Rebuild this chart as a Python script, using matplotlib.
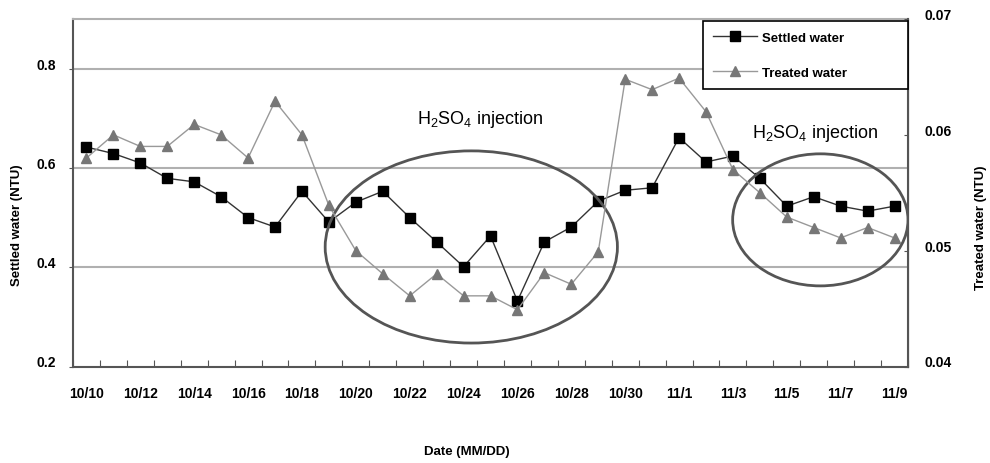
import matplotlib.pyplot as plt
import matplotlib.transforms as mtransforms
from matplotlib.patches import Ellipse
import numpy as np

plt.rcParams['font.family'] = ['Liberation Sans', 'DejaVu Sans']

# dias de 10/10 a 11/9
datas = ['10/10', '10/11', '10/12', '10/13', '10/14', '10/15', '10/16', '10/17',
         '10/18', '10/19', '10/20', '10/21', '10/22', '10/23', '10/24', '10/25',
         '10/26', '10/27', '10/28', '10/29', '10/30', '10/31', '11/1', '11/2',
         '11/3', '11/4', '11/5', '11/6', '11/7', '11/8', '11/9']

settled = [0.642, 0.629, 0.610, 0.579, 0.572, 0.542, 0.500, 0.481,
           0.553, 0.491, 0.531, 0.553, 0.500, 0.451, 0.401, 0.463,
           0.332, 0.451, 0.481, 0.533, 0.555, 0.560, 0.661, 0.612,
           0.624, 0.579, 0.523, 0.542, 0.523, 0.513, 0.523]

treated = [0.0580, 0.0600, 0.0590, 0.0590, 0.0609, 0.0600, 0.0580, 0.0629,
           0.0600, 0.0539, 0.0500, 0.0480, 0.0461, 0.0480, 0.0461, 0.0461,
           0.0449, 0.0481, 0.0471, 0.0499, 0.0648, 0.0639, 0.0649, 0.0620,
           0.0570, 0.0550, 0.0529, 0.0520, 0.0511, 0.0520, 0.0511]

x = np.arange(len(datas))

fig = plt.figure(figsize=(9.9, 4.64), dpi=100)
fig.subplots_adjust(left=73/990, right=908/990, top=1-20/464, bottom=1-367.5/464)
ax = fig.add_subplot(111)
ax2 = ax.twinx()

# deslocamento dos rótulos do eixo y (ficam um pouco acima da marca)
sobe = mtransforms.ScaledTranslation(0, 4/72, fig.dpi_scale_trans)

# eixo esquerdo
ax.set_xlim(-0.5, len(datas) - 0.5)
ax.set_ylim(0.2, 0.9)
ax.set_yticks([0.2, 0.4, 0.6, 0.8])
ax.set_yticklabels(['0.2', '0.4', '0.6', '0.8'], fontweight='bold', fontsize=10)
for yv in [0.4, 0.6, 0.8]:
    ax.axhline(yv, color='#b0b0b0', lw=1.5, zorder=0)
ax.tick_params(axis='y', length=3, pad=9, color='#555555')
for lbl in ax.get_yticklabels():
    lbl.set_transform(lbl.get_transform() + sobe)

# ticks nas fronteiras das categorias, rótulos de 2 em 2
ax.set_xticks(np.arange(-0.5, len(datas)), minor=False)
ax.set_xticklabels([])
ax.tick_params(axis='x', which='major', direction='in', length=5, color='#555555')
ax.set_xticks(x[::2], minor=True)
ax.set_xticklabels(datas[::2], minor=True, fontweight='bold', fontsize=10)
ax.tick_params(axis='x', which='minor', length=0, pad=14)

for lado in ['left', 'bottom']:
    ax.spines[lado].set_color('#555555')
    ax.spines[lado].set_linewidth(1.5)
ax.spines['top'].set_color('#b0b0b0')
ax.spines['top'].set_linewidth(1.5)

# eixo direito
ax2.set_ylim(0.04, 0.07)
ax2.set_yticks([0.04, 0.05, 0.06, 0.07])
ax2.set_yticklabels(['0.04', '0.05', '0.06', '0.07'], fontweight='bold', fontsize=10)
ax2.tick_params(axis='y', direction='in', length=3, pad=12, color='#555555')
for lbl in ax2.get_yticklabels():
    lbl.set_transform(lbl.get_transform() + sobe)
ax2.spines['right'].set_color('#555555')
ax2.spines['right'].set_linewidth(1.5)
for lado in ['left', 'bottom', 'top']:
    ax2.spines[lado].set_visible(False)

l1, = ax.plot(x, settled, color='#333333', lw=1, marker='s', markersize=6.5,
              markerfacecolor='black', markeredgecolor='black', label='Settled water', zorder=4)
l2, = ax2.plot(x, treated, color='#999999', lw=1, marker='^', markersize=7.5,
               markerfacecolor='#777777', markeredgecolor='#777777', label='Treated water', zorder=3)

# elipses de destaque
ax2.add_patch(Ellipse((0.477, 0.344), 0.350, 0.553, transform=ax.transAxes,
                      fill=False, edgecolor='#555555', lw=2, zorder=2))
ax2.add_patch(Ellipse((0.895, 0.422), 0.210, 0.380, transform=ax.transAxes,
                      fill=False, edgecolor='#555555', lw=2, zorder=2))

fig.text(480/990, 1-120/464, r'$\mathregular{H_2SO_4}$ injection', fontsize=13,
         ha='center', va='center')
fig.text(815/990, 1-133/464, r'$\mathregular{H_2SO_4}$ injection', fontsize=13,
         ha='center', va='center')

leg = ax2.legend(handles=[l1, l2], loc='upper left',
                 bbox_to_anchor=(0.754, 0.781, 0.246, 0.213), mode='expand',
                 borderaxespad=0, fancybox=False, framealpha=1, edgecolor='black',
                 prop={'weight': 'bold', 'size': 9.5}, handlelength=3.3,
                 labelspacing=1.7, borderpad=0.8, handletextpad=0.4)
leg.get_frame().set_linewidth(1.2)
leg.set_zorder(10)

fig.text(17/990, 1-225/464, 'Settled water (NTU)', rotation=90, fontsize=9.5,
         fontweight='bold', ha='center', va='center')
fig.text(981/990, 1-228/464, 'Treated water (NTU)', rotation=90, fontsize=9.5,
         fontweight='bold', ha='center', va='center')
fig.text(467/990, 1-452/464, 'Date (MM/DD)', fontsize=9.5, fontweight='bold',
         ha='center', va='center')

plt.savefig('out.png', dpi=100)
